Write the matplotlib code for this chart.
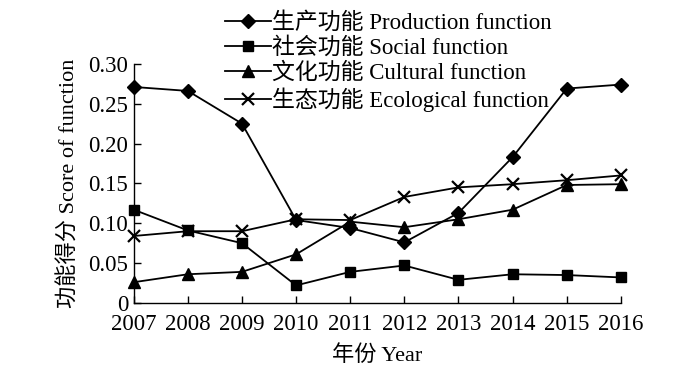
import matplotlib
matplotlib.use("Agg")
import matplotlib.pyplot as plt
from matplotlib.ticker import FuncFormatter

plt.rcParams['font.family'] = ['Liberation Serif', 'Noto Sans CJK SC']

# Data
years = [2007, 2008, 2009, 2010, 2011, 2012, 2013, 2014, 2015, 2016]
production = [0.271, 0.266, 0.225, 0.104, 0.094, 0.076, 0.113, 0.183, 0.269, 0.274]
social = [0.117, 0.091, 0.075, 0.022, 0.039, 0.047, 0.029, 0.036, 0.035, 0.032]
cultural = [0.026, 0.036, 0.039, 0.061, 0.102, 0.095, 0.105, 0.117, 0.148, 0.149]
ecological = [0.084, 0.090, 0.090, 0.105, 0.104, 0.133, 0.145, 0.149, 0.154, 0.160]

labels = ["生产功能 Production function", "社会功能 Social function",
          "文化功能 Cultural function", "生态功能 Ecological function"]
yticks = [0, 0.05, 0.10, 0.15, 0.20, 0.25, 0.30]

fig = plt.figure(figsize=(7, 3.69), dpi=100)
ax = fig.add_axes([0.191, 0.179, 0.696, 0.648])

series = [(production, "D", 7), (social, "s", 7.5), (cultural, "^", 8.5), (ecological, "x", 8.5)]
lines = []
for (vals, m, ms), lab in zip(series, labels):
    ln, = ax.plot(years, vals, color="black", lw=1.3, marker=m, markersize=ms,
                  markeredgewidth=1.6 if m == "x" else 1, label=lab, clip_on=False)
    lines.append(ln)

ax.set_xlim(2007, 2016)
ax.set_ylim(0, 0.30)
ax.set_xticks(years)
ax.set_yticks(yticks)
ax.yaxis.set_major_formatter(FuncFormatter(lambda v, p: "0" if v == 0 else f"{v:.2f}"))
ax.tick_params(direction="in", length=5, width=1, labelsize=16.5)
ax.tick_params(axis="y", pad=4)
ax.tick_params(axis="x", pad=8)
ax.spines["top"].set_visible(False)
ax.spines["right"].set_visible(False)
for s in ("left", "bottom"):
    ax.spines[s].set_linewidth(1)

ax.set_xlabel("年份 Year", fontsize=16, labelpad=7)
ax.set_ylabel("功能得分 Score of function", fontsize=16, labelpad=6)

fig.legend(handles=lines, loc="upper left", bbox_to_anchor=(0.315, 0.98),
           frameon=False, fontsize=16.5, handlelength=2.0, handletextpad=0.05,
           labelspacing=0.15, borderaxespad=0.0, borderpad=0.2)

fig.savefig("out.png", dpi=100)
